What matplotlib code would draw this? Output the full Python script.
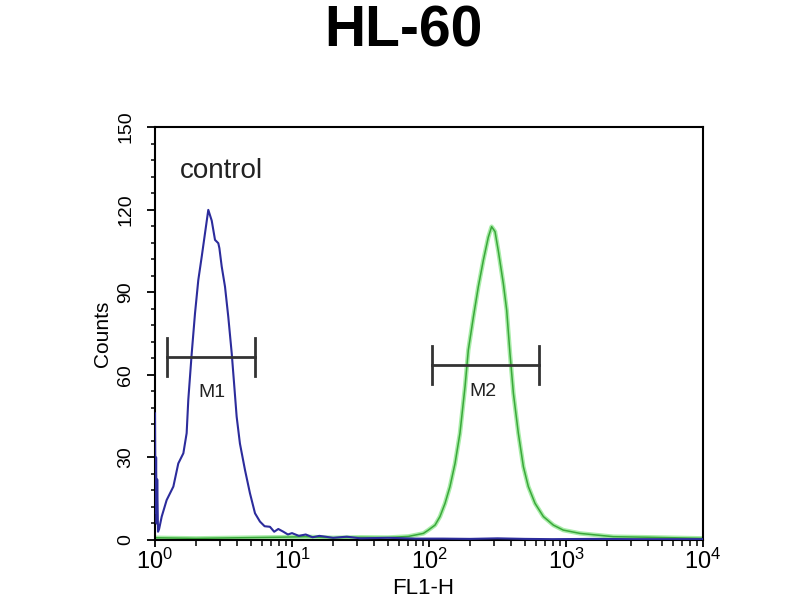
import numpy as np
import matplotlib
matplotlib.use("Agg")
import matplotlib.pyplot as plt

plt.rcParams['font.family'] = ['Liberation Sans', 'DejaVu Sans']
plt.rcParams['mathtext.fontset'] = 'custom'
plt.rcParams['mathtext.rm'] = 'Liberation Sans'
plt.rcParams['mathtext.it'] = 'Liberation Sans'

# control histogram (blue), x given as log10(FL1-H)
blue_log = [0.000, 0.004, 0.008, 0.012, 0.016, 0.022, 0.030, 0.049, 0.085, 0.134, 0.170,
            0.207, 0.231, 0.243, 0.268, 0.292, 0.316, 0.341, 0.365, 0.389, 0.414,
            0.438, 0.462, 0.470, 0.487, 0.511, 0.535, 0.560, 0.577, 0.596, 0.620,
            0.657, 0.693, 0.730, 0.766, 0.800, 0.839, 0.870, 0.900, 0.937, 0.970,
            1.000, 1.050, 1.100, 1.150, 1.200, 1.300, 1.400, 1.500, 1.700, 1.900,
            2.100, 2.300, 2.500, 2.700, 2.900, 3.200, 3.500, 4.000]
blue_counts = [46, 10, 30, 6, 22, 3, 4, 8.5, 14.5, 19.4, 27.8,
               31.5, 38.8, 50.9, 67.8, 82.3, 94.4, 102.9, 111.4, 119.9, 116,
               109, 107.8, 106, 99.3, 92, 81, 67.8, 57, 44.8, 35,
               25.4, 17, 9.7, 6.7, 5, 4.8, 3, 4, 3, 2,
               2.5, 1.5, 2, 1, 1.5, 0.8, 1.2, 0.6, 0.8, 0.5,
               0.5, 0.4, 0.6, 0.4, 0.3, 0.4, 0.3, 0.3]

# sample histogram (green)
green_log = [0.000, 0.300, 0.600, 0.900, 1.100, 1.300, 1.500, 1.700, 1.850, 1.959,
             1.995, 2.044, 2.080, 2.117, 2.153, 2.190, 2.226, 2.263, 2.287, 2.324,
             2.360, 2.397, 2.433, 2.457, 2.482, 2.506, 2.543, 2.567, 2.591, 2.616,
             2.652, 2.689, 2.725, 2.774, 2.835, 2.908, 2.980, 3.102, 3.345, 3.600,
             3.800, 4.000]
green_counts = [0.8, 0.6, 0.8, 1.0, 1.2, 0.8, 1.0, 0.9, 1.3, 2.4,
                3.6, 5.4, 8.5, 13.3, 19.4, 27.8, 38.8, 55.7, 69, 81,
                92, 101.7, 110, 113.8, 112, 105, 93, 83.5, 67.8, 53.3,
                38.8, 26.6, 19.4, 13.3, 8.5, 5.4, 3.6, 2.4, 1.2, 1.0,
                0.8, 0.6]

# marker gates
gate_names = ['M1', 'M2']
gate_lo = [1.22, 104.6]
gate_hi = [5.40, 638]
gate_y = [66.5, 63.6]
gate_label_x = [2.61, 248]
gate_label_y = [53.4, 53.8]

fig = plt.figure(figsize=(8, 6), dpi=100)
ax = fig.add_axes([0.19375, 0.1, 0.685, 0.68833])

bx = 10 ** np.array(blue_log)
gx = 10 ** np.array(green_log)
ax.plot(bx, blue_counts, color='#2c2c9c', lw=1.5, zorder=3)
ax.plot(gx, green_counts, color='#a8eca8', lw=3.2, zorder=2)
ax.plot(gx, green_counts, color='#3aa83a', lw=1.1, zorder=2)

for i in range(len(gate_names)):
    ax.plot([gate_lo[i], gate_hi[i]], [gate_y[i], gate_y[i]], color='#333333', lw=2, zorder=4)
    ax.plot([gate_lo[i], gate_lo[i]], [gate_y[i] - 6.8, gate_y[i] + 6.8], color='#333333', lw=2, zorder=4)
    ax.plot([gate_hi[i], gate_hi[i]], [gate_y[i] - 6.8, gate_y[i] + 6.8], color='#333333', lw=2, zorder=4)
    ax.text(gate_label_x[i], gate_label_y[i], gate_names[i], fontsize=14, ha='center', va='center',
            color='#222222')

ax.text(1.52, 131.5, 'control', fontsize=20, ha='left', va='baseline', color='#222222')

ax.set_xscale('log')
ax.set_xlim(1, 1e4)
ax.set_ylim(0, 150)
ax.set_yticks([0, 30, 60, 90, 120, 150])
ax.set_yticks(np.arange(0, 151, 6), minor=True)
ax.tick_params(axis='y', which='major', length=6, width=1.3, labelsize=14, pad=9)
ax.tick_params(axis='y', which='minor', length=3, width=1.1)
ax.tick_params(axis='x', which='major', length=5, width=1.3, labelsize=17, pad=1)
ax.tick_params(axis='x', which='minor', length=4, width=1.1)
for lab in ax.get_yticklabels():
    lab.set_rotation(90)
    lab.set_va('center')
for s in ax.spines.values():
    s.set_linewidth(1.5)

ax.set_ylabel('Counts', fontsize=15, labelpad=4)
ax.set_xlabel('FL1-H', fontsize=16)
ax.xaxis.set_label_coords(0.49, -0.118)
ax.xaxis.label.set_va('center')

fig.text(0.504, 0.947, 'HL-60', fontsize=41, fontweight='bold', ha='center', va='center')

fig.savefig('out.png', dpi=100)
